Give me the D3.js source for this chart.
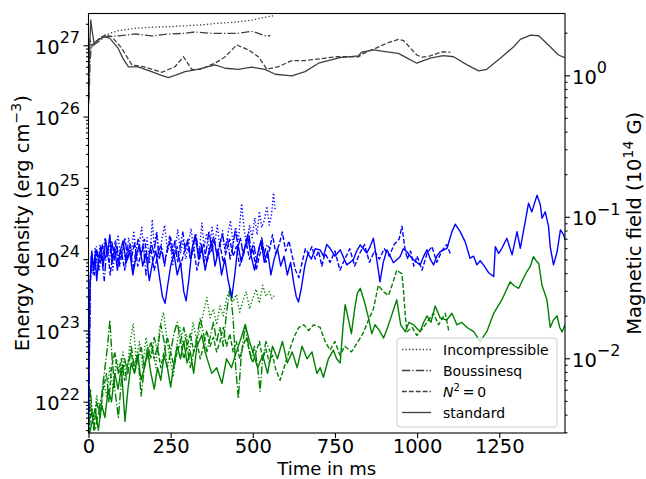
<!DOCTYPE html>
<html><head><meta charset="utf-8">
<script src="https://cdn.jsdelivr.net/npm/d3@7"></script>
<style>body{margin:0;background:#fff} text{font-family:"DejaVu Sans",sans-serif;fill:#000}</style>
</head><body><svg id="c" width="646" height="479"></svg>
<script>
// ---------- data (time in ms, energy density in erg cm^-3) ----------
const xTicks = [0, 250, 500, 750, 1000, 1250];
const leftExponents = [22, 23, 24, 25, 26, 27];
const rightExponents = [-2, -1, 0];
const legendLabels = ["Incompressible", "Boussinesq", "N2=0", "standard"];

// black (top) curves
const incK = [[0,5e26],[5,9e26],[15,1.0e27],[25,1.15e27],[40,1.32e27],[71,1.5e27],[90,1.6e27],[142,1.73e27],[192,1.79e27],[243,1.82e27],[294,1.88e27],[345,1.93e27],[395,2.04e27],[446,2.1e27],[497,2.26e27],[537,2.47e27],[563,2.6e27],[568,2.58e27]];
const bouK = [[1.5,1.7e26],[5,6e26],[8,9.2e26],[15,1.0e27],[30,1.12e27],[50,1.32e27],[90,1.35e27],[142,1.44e27],[192,1.35e27],[243,1.44e27],[294,1.47e27],[324,1.54e27],[375,1.47e27],[416,1.47e27],[456,1.47e27],[497,1.57e27],[517,1.47e27],[537,1.36e27],[553,1.36e27]];
const n2K = [[0,1.5e26],[4,1.2e27],[10,1.0e27],[20,1.1e27],[35,1.25e27],[50,1.39e27],[71,1.32e27],[101,9.1e26],[132,5.3e26],[167,5.0e26],[200,4.5e26],[223,4.18e26],[263,5.0e26],[289,6.9e26],[314,4.6e26],[340,4.6e26],[385,5.6e26],[416,6.9e26],[451,1.01e27],[487,8.6e26],[517,6.9e26],[543,4.6e26],[578,5.0e26],[619,6.1e26],[659,6.1e26],[720,6.6e26],[756,6.9e26],[822,6.9e26],[837,7.7e26],[867,8.8e26],[908,1.07e27],[943,1.21e27],[959,1.16e27],[999,7.3e26],[1015,6.8e26],[1040,7.1e26],[1076,8.1e26],[1101,8.0e26]];
const stdK = [[0,1.5e26],[3,8e26],[7,2.26e27],[11,1.6e27],[17,1.07e27],[30,1.2e27],[50,1.32e27],[65,1.25e27],[90,9.1e26],[105,6.5e26],[121,5.0e26],[151,4.97e26],[192,4.27e26],[220,3.8e26],[243,3.52e26],[265,3.8e26],[294,4.27e26],[333,4.6e26],[385,5.3e26],[416,4.76e26],[455,4.6e26],[497,4.92e26],[537,4.6e26],[568,3.92e26],[619,3.71e26],[659,4.27e26],[700,5.6e26],[730,6.08e26],[765,6.7e26],[821,7.08e26],[831,7.98e26],[867,8.6e26],[908,8.1e26],[943,7.7e26],[970,6.6e26],[999,5.6e26],[1040,6.6e26],[1080,7.15e26],[1111,6.9e26],[1152,5.3e26],[1187,4.37e26],[1212,4.6e26],[1253,6.6e26],[1294,9.55e26],[1314,1.21e27],[1345,1.39e27],[1370,1.36e27],[1405,9.55e26],[1430,7.3e26],[1450,6.7e26]];

// blue curves
const incB = [[0,3e21],[4,3e23],[8,1.1e24],[14,6e23],[20,1.4e24],[28,8e23],[35,1.6e24],[42,9e23],[50,2.0e24],[58,1.1e24],[66,1.7e24],[74,7e23],[82,1.3e24],[90,2.2e24],[98,1.0e24],[106,1.5e24],[114,8e23],[122,2.0e24],[130,1.2e24],[138,2.5e24],[146,1.0e24],[154,1.6e24],[162,2.8e24],[170,1.1e24],[178,2.0e24],[186,9e23],[194,3.6e24],[200,1.5e24],[208,2.4e24],[216,1.0e24],[224,2.0e24],[232,3.0e24],[240,1.3e24],[248,1.8e24],[256,8e23],[264,1.5e24],[272,2.6e24],[280,1.2e24],[288,1.9e24],[296,1.0e24],[304,1.6e24],[312,2.7e24],[320,1.3e24],[328,2.0e24],[336,1.1e24],[345,3.2e24],[352,1.5e24],[360,2.3e24],[368,1.2e24],[376,2.8e24],[384,1.6e24],[392,3.0e24],[400,1.4e24],[408,2.5e24],[416,1.2e24],[424,2.2e24],[432,3.5e24],[440,1.6e24],[448,2.8e24],[456,1.8e24],[466,6.0e24],[474,2.5e24],[482,1.5e24],[490,3.0e24],[498,2.0e24],[506,3.8e24],[513,2.2e24],[520,4.7e24],[527,2.8e24],[535,3.5e24],[543,5.5e24],[550,3.0e24],[557,4.2e24],[563,8.5e24],[568,5.0e24]];
const bouB = [[0,3e21],[5,5e23],[10,1.2e24],[16,8e23],[24,1.5e24],[32,7e23],[40,1.1e24],[48,5e23],[55,1.3e24],[63,9e23],[71,1.8e24],[79,1.0e24],[87,1.5e24],[95,8e23],[103,1.3e24],[111,2.0e24],[119,1.0e24],[127,1.6e24],[135,7e23],[143,1.2e24],[151,1.9e24],[159,1.1e24],[167,1.5e24],[175,6e23],[183,1.0e24],[191,1.7e24],[199,1.2e24],[207,2.3e24],[215,1.0e24],[223,1.4e24],[231,8e23],[239,1.3e24],[247,2.1e24],[255,1.2e24],[263,1.8e24],[271,9e23],[279,1.5e24],[287,2.4e24],[295,1.3e24],[303,1.9e24],[311,1.0e24],[319,1.6e24],[327,2.2e24],[335,1.2e24],[343,1.7e24],[351,9e23],[359,1.4e24],[367,2.5e24],[375,1.3e24],[383,1.9e24],[391,1.1e24],[399,1.6e24],[407,2.3e24],[415,1.4e24],[423,2.0e24],[431,1.0e24],[439,1.5e24],[447,2.6e24],[455,1.5e24],[463,2.0e24],[471,1.1e24],[479,1.8e24],[487,2.4e24],[495,1.3e24],[503,1.7e24],[511,9e23],[519,1.4e24],[527,2.0e24],[535,1.2e24],[543,1.6e24],[553,1.4e24]];
const n2B = [[0,3e21],[5,4e23],[10,1.1e24],[18,6e23],[26,1.3e24],[34,9e23],[42,1.6e24],[50,1.0e24],[58,1.4e24],[66,6e23],[74,1.2e24],[82,1.8e24],[90,9e23],[100,1.3e24],[110,7e23],[120,1.5e24],[130,1.0e24],[140,1.7e24],[150,8e23],[160,1.2e24],[170,1.9e24],[180,1.0e24],[190,1.4e24],[200,7e23],[210,1.1e24],[220,1.6e24],[230,9e23],[240,1.3e24],[250,2.0e24],[260,1.1e24],[270,1.5e24],[280,8e23],[290,1.2e24],[300,1.8e24],[310,1.0e24],[320,1.4e24],[330,7e23],[340,1.1e24],[350,1.6e24],[360,9e23],[370,1.3e24],[380,2.0e24],[390,1.2e24],[400,1.6e24],[410,9e23],[420,1.3e24],[430,1.9e24],[440,1.1e24],[450,1.5e24],[460,8e23],[470,1.2e24],[480,1.7e24],[490,1.0e24],[500,1.4e24],[510,7e23],[520,1.1e24],[530,1.6e24],[540,9e23],[550,1.3e24],[560,2.2e24],[570,1.2e24],[580,1.6e24],[590,2.4e24],[600,1.3e24],[610,1.8e24],[620,1.1e24],[630,7e23],[640,5.5e23],[650,9e23],[660,1.4e24],[670,1.2e24],[680,1.5e24],[690,1.0e24],[700,1.3e24],[710,8e23],[720,1.2e24],[735,9e23],[750,1.3e24],[765,7e23],[780,1.0e24],[795,1.4e24],[810,8e23],[825,1.2e24],[840,1.6e24],[855,9e23],[870,1.3e24],[885,1.0e24],[900,1.4e24],[915,1.1e24],[930,1.6e24],[945,1.9e24],[954,2.9e24],[962,1.5e24],[970,1.0e24],[980,1.3e24],[990,8e23],[1000,1.1e24],[1015,7e23],[1030,1.2e24],[1045,1.5e24],[1060,9e23],[1075,1.3e24],[1090,1.6e24],[1101,1.2e24]];
const stdB = [[0,3e21],[3,2e23],[6,6e23],[10,1.3e24],[15,7e23],[20,1.1e24],[25,5e23],[30,9e23],[38,1.5e24],[45,8e23],[52,1.9e24],[58,1.2e24],[65,2.2e24],[72,9e23],[80,1.4e24],[88,7e23],[95,1.2e24],[105,1.8e24],[115,9e23],[125,1.3e24],[135,6e23],[145,1.1e24],[155,1.6e24],[165,8e23],[175,1.2e24],[185,5e23],[195,9e23],[205,1.3e24],[215,6e23],[225,3e23],[233,2.4e23],[240,4e23],[250,8e23],[260,1.2e24],[270,6e23],[280,9e23],[290,3.5e23],[297,2.6e23],[305,5e23],[315,1.4e24],[325,2.2e24],[335,1.0e24],[345,1.5e24],[355,7e23],[365,1.2e24],[375,1.8e24],[385,8e23],[395,1.3e24],[405,6e23],[415,1.0e24],[425,5e23],[436,2.9e23],[445,6e23],[455,1.6e24],[465,9e23],[475,1.4e24],[485,2.0e24],[495,1.1e24],[505,7e23],[515,1.2e24],[525,1.8e24],[535,9e23],[545,1.3e24],[555,6e23],[565,1.0e24],[575,1.4e24],[585,8e23],[595,1.1e24],[605,6e23],[615,9e23],[625,4.5e23],[632,3e23],[639,2.5e23],[648,4e23],[658,8e23],[668,1.2e24],[678,1.0e24],[690,1.4e24],[705,1.35e24],[715,1.1e24],[725,1.6e24],[735,1.42e24],[750,1.1e24],[766,1.35e24],[786,8.3e23],[806,9.8e23],[816,1.3e24],[827,1.58e24],[847,1.22e24],[857,1.5e24],[867,1.96e24],[877,1.0e24],[887,4.8e23],[897,9e23],[908,1.35e24],[918,1.1e24],[928,8.9e23],[948,1.08e24],[958,1.4e24],[969,1.27e24],[979,1.1e24],[989,9.8e23],[1009,8.3e23],[1020,1.1e24],[1030,1.35e24],[1040,1.0e24],[1050,8.3e23],[1060,1.1e24],[1070,1.27e24],[1091,1.42e24],[1106,2.43e24],[1116,3.09e24],[1131,2.43e24],[1146,1.76e24],[1161,1.03e24],[1172,1.1e24],[1182,8.3e23],[1192,9.5e23],[1202,8.3e23],[1217,6.5e23],[1233,5.7e23],[1238,1.5e24],[1248,1.2e24],[1258,1.42e24],[1273,1.96e24],[1289,1.15e24],[1304,2.43e24],[1314,1.42e24],[1329,3.36e24],[1339,6.1e24],[1349,4.6e24],[1365,7.9e24],[1375,5.75e24],[1380,3.75e24],[1390,4.6e24],[1400,2.86e24],[1405,1.5e24],[1415,8.3e23],[1426,1.27e24],[1436,2.57e24],[1446,2.19e24],[1450,1.86e24]];

// green curves
const incG = [[0,3e21],[8,1e22],[15,5e21],[25,1.2e22],[35,7e21],[45,2e22],[55,1.2e22],[65,3e22],[75,1.5e22],[85,4e22],[95,2.5e22],[105,5e22],[115,2e22],[125,6e22],[136,1.25e23],[145,4e22],[155,7e22],[165,3e22],[175,8e22],[185,4e22],[195,6e22],[205,3e22],[215,1.0e23],[228,1.8e23],[238,8e22],[248,4e22],[258,2.2e22],[268,6e22],[278,1.1e23],[288,6e22],[298,9e22],[308,5e22],[318,1.3e23],[330,7e22],[340,1.1e23],[350,1.8e23],[360,2.9e23],[370,1.5e23],[380,2.0e23],[390,1.2e23],[400,2.2e23],[410,1.6e23],[420,2.8e23],[431,3.9e23],[440,2.5e23],[450,3.2e23],[460,1.8e23],[470,2.6e23],[480,3.5e23],[490,2.0e23],[500,2.8e23],[510,3.8e23],[520,2.4e23],[530,4.3e23],[540,3.0e23],[550,3.5e23],[558,2.8e23],[568,3.2e23]];
const bouG = [[0,3e21],[6,1.5e22],[12,6e21],[20,4e21],[30,7e21],[40,1.2e22],[50,3e22],[58,6e22],[65,1.4e23],[72,4e22],[80,1.5e22],[91,6e21],[100,2e22],[110,4e22],[120,2.5e22],[130,6e22],[140,3e22],[150,5e22],[160,1.2e22],[170,3e22],[180,6e22],[190,4e22],[200,8e22],[210,5e22],[220,1.2e23],[230,7e22],[240,3e22],[250,5e22],[260,9e22],[270,1.3e23],[280,7e22],[290,1.1e23],[300,6e22],[310,3e22],[320,5e22],[330,8e22],[340,1.5e23],[350,9e22],[360,5e22],[370,8e22],[380,1.3e23],[390,7e22],[400,1.1e23],[410,6e22],[420,1.8e23],[431,3.9e23],[440,1.5e23],[448,3e22],[456,1.1e22],[464,4e22],[472,8e22],[477,1.2e23],[485,7e22],[495,4e22],[505,6e22],[515,3e22],[522,1.4e22],[530,4e22],[540,7e22],[553,5e22]];
const n2G = [[0,3e21],[8,8e21],[16,4e21],[25,1.0e22],[35,6e21],[45,1.5e22],[55,2.5e22],[62,1.0e22],[70,3e22],[80,5e22],[90,2.5e22],[100,4e22],[110,2e22],[120,3.5e22],[130,5e22],[140,2.5e22],[150,4e22],[160,6e22],[170,3e22],[180,4.5e22],[190,7e22],[200,4e22],[210,6e22],[220,3e22],[230,5e22],[240,8e22],[250,5e22],[260,3e22],[270,5e22],[280,7e22],[290,4e22],[300,6e22],[310,9e22],[320,5e22],[330,7e22],[340,4e22],[350,6e22],[360,1.0e23],[370,6e22],[380,8e22],[390,5e22],[400,7e22],[410,1.1e23],[420,6e22],[430,9e22],[440,5e22],[450,7e22],[460,4e22],[470,6e22],[480,8e22],[490,5e22],[500,3.5e22],[510,5e22],[520,7e22],[530,4e22],[540,5.5e22],[550,3.5e22],[560,4.5e22],[570,2.8e22],[583,2.0e22],[595,3e22],[610,5e22],[625,8e22],[640,1.1e23],[655,1.2e23],[670,1.0e23],[685,1.2e23],[705,1.1e23],[720,7e22],[735,5.3e22],[750,7e22],[765,4.5e22],[780,6e22],[800,5e22],[817,6.6e22],[835,9e22],[852,1.4e23],[867,2.0e23],[882,4.3e23],[897,3.5e23],[913,3.1e23],[925,4.5e23],[938,7.0e23],[954,6.2e23],[959,3.4e23],[964,1.6e23],[969,9.6e22],[985,1.1e23],[999,8.5e22],[1019,1.1e23],[1035,1.4e23],[1050,1.74e23],[1065,1.2e23],[1086,1.74e23],[1096,1.0e23]];
const stdG = [[0,3e21],[10,5e21],[20,8e21],[30,4e21],[40,9e21],[50,6e21],[60,1.5e22],[70,1.0e22],[80,2.5e22],[90,1.5e22],[100,3e22],[111,5.3e21],[120,1.5e22],[130,3.5e22],[140,2.5e22],[150,4.5e22],[160,2e22],[170,3e22],[180,5e22],[190,2.5e22],[200,1.5e22],[210,3e22],[220,2e22],[230,4.5e22],[240,3e22],[250,1.6e22],[260,3.5e22],[270,6e22],[280,4e22],[290,7e22],[300,3.5e22],[310,5e22],[320,2.5e22],[330,6e22],[345,8.6e22],[355,5e22],[365,3.5e22],[375,2.5e22],[390,3e22],[406,1.8e22],[420,4e22],[435,3e22],[450,5e22],[465,8e22],[477,1.2e23],[490,7e22],[500,5e22],[515,3e22],[530,4.5e22],[545,2.5e22],[560,6e22],[575,4e22],[590,7e22],[605,3.5e22],[620,5e22],[635,3e22],[650,6e22],[665,4e22],[680,5e22],[695,2.5e22],[705,3.0e22],[715,2.2e22],[730,4e22],[745,5.3e22],[755,4e22],[766,3.5e22],[775,1.2e23],[781,2.3e23],[790,1.5e23],[800,9e22],[810,2e23],[818,3.3e23],[827,3.9e23],[840,2.5e23],[852,1.5e23],[862,9e22],[872,1.2e23],[885,1.0e23],[898,7.8e22],[910,1.1e23],[920,1.5e23],[938,2.7e23],[950,1.2e23],[964,9.6e22],[975,1.3e23],[989,1.2e23],[1009,9.6e22],[1020,1.3e23],[1030,1.6e23],[1042,1.3e23],[1055,2.2e23],[1070,1.5e23],[1090,1.4e23],[1106,1.74e23],[1121,1.2e23],[1135,1.3e23],[1152,1.1e23],[1172,9.6e22],[1192,7e22],[1212,9.6e22],[1233,1.74e23],[1258,2.7e23],[1283,4.8e23],[1296,4.2e23],[1309,3.9e23],[1322,5.2e23],[1334,6.7e23],[1345,8e23],[1354,1.08e24],[1362,9.5e23],[1370,8.7e23],[1380,4.3e23],[1395,2.7e23],[1405,1.1e23],[1415,1.4e23],[1426,1.6e23],[1434,1.1e23],[1441,9.5e22],[1450,1.2e23]];

// ---------- drawing ----------
const svg = d3.select("#c");
const L = 88.5, R = 565, T = 13.5, B = 433;
const x = d3.scaleLinear().domain([0, 1450]).range([L, R]);
const yL = d3.scaleLog().domain([3.64e21, 2.79e27]).range([B, T]);
const yR = d3.scaleLog().domain([2.965e-3, 2.734]).range([B, T]);

const K = "#404040", BL = "#0000ff", GR = "#008000";
const LW = 1.3;
const dash = {
  dot: "1.3,2.15",
  dashdot: "8.3,2.1,1.3,2.1",
  dash: "4.8,2.1",
  solid: null
};
const models = [
  {style: "dot", series: [incK, incB, incG]},
  {style: "dashdot", series: [bouK, bouB, bouG]},
  {style: "dash", series: [n2K, n2B, n2G]},
  {style: "solid", series: [stdK, stdB, stdG]}
];
const colors = [K, BL, GR];

svg.append("defs").append("clipPath").attr("id", "clip")
  .append("rect").attr("x", L).attr("y", T).attr("width", R - L).attr("height", B - T);

const line = d3.line().x(d => x(d[0])).y(d => yL(d[1]));
const gLines = svg.append("g").attr("clip-path", "url(#clip)");
models.forEach(m => {
  m.series.forEach((s, i) => {
    gLines.append("path").attr("d", line(s)).attr("fill", "none")
      .attr("stroke", colors[i]).attr("stroke-width", i === 0 ? LW : 1.4)
      .attr("stroke-dasharray", dash[m.style]).attr("stroke-linejoin", "round");
  });
});

// frame
svg.append("rect").attr("x", L).attr("y", T).attr("width", R - L).attr("height", B - T)
  .attr("fill", "none").attr("stroke", "#000").attr("stroke-width", 1.1);

const FS = 19.5, SUP = 16;

function supLabel(sel, exps) {
  sel.each(function(d, i) {
    const t = d3.select(this);
    t.text(null);
    t.append("tspan").text("10");
    const e = exps[i];
    t.append("tspan").attr("dy", -10.5).attr("font-size", SUP)
      .text(e < 0 ? "\u2212" + Math.abs(e) : String(e));
  });
}

// left axis
const leftMaj = leftExponents.map(e => Math.pow(10, e));
const leftMin = [];
for (let e = 21; e <= 27; e++) for (let k = 2; k <= 9; k++) {
  const v = k * Math.pow(10, e);
  if (v >= 3.64e21 && v <= 2.79e27) leftMin.push(v);
}
const gl = svg.append("g").attr("transform", `translate(${L},0)`);
gl.call(d3.axisLeft(yL).tickValues(leftMaj).tickSize(5).tickSizeOuter(0).tickPadding(3.5));
gl.select(".domain").remove();
gl.selectAll(".tick text").attr("dy", null).attr("y", 7.8).attr("font-size", FS)
  .attr("font-family", "DejaVu Sans").call(supLabel, leftExponents);
const glm = svg.append("g").attr("transform", `translate(${L},0)`);
glm.call(d3.axisLeft(yL).tickValues(leftMin).tickSize(2.5).tickFormat(""));
glm.select(".domain").remove();

// right axis
const rightMaj = rightExponents.map(e => Math.pow(10, e));
const rightMin = [];
for (let e = -3; e <= 0; e++) for (let k = 2; k <= 9; k++) {
  const v = k * Math.pow(10, e);
  if (v >= 2.965e-3 && v <= 2.734) rightMin.push(v);
}
const gr = svg.append("g").attr("transform", `translate(${R},0)`);
gr.call(d3.axisRight(yR).tickValues(rightMaj).tickSize(5).tickSizeOuter(0).tickPadding(2));
gr.select(".domain").remove();
gr.selectAll(".tick text").attr("dy", null).attr("y", 7.8).attr("font-size", FS)
  .attr("font-family", "DejaVu Sans").call(supLabel, rightExponents);
const grm = svg.append("g").attr("transform", `translate(${R},0)`);
grm.call(d3.axisRight(yR).tickValues(rightMin).tickSize(2.5).tickFormat(""));
grm.select(".domain").remove();

// bottom axis
const gb = svg.append("g").attr("transform", `translate(0,${B})`);
gb.call(d3.axisBottom(x).tickValues(xTicks).tickSize(5).tickSizeOuter(0).tickFormat(d3.format("d")));
gb.select(".domain").remove();
gb.selectAll(".tick text").attr("dy", null).attr("y", 20).attr("font-size", FS)
  .attr("font-family", "DejaVu Sans");

svg.selectAll(".tick line").attr("stroke", "#000").attr("stroke-width", 1.1);

// axis titles
svg.append("text").attr("x", (L + R) / 2).attr("y", 474.5).attr("text-anchor", "middle")
  .attr("font-size", 18).text("Time in ms");

const yl = svg.append("text").attr("transform", `translate(29,${(T + B) / 2}) rotate(-90)`)
  .attr("text-anchor", "middle").attr("font-size", FS);
yl.append("tspan").text("Energy density (erg cm");
yl.append("tspan").attr("dy", -8).attr("font-size", 14).text("\u22123");
yl.append("tspan").attr("dy", 8).text(")");

const yr = svg.append("text").attr("transform", `translate(641,${(T + B) / 2}) rotate(-90)`)
  .attr("text-anchor", "middle").attr("font-size", FS);
yr.append("tspan").text("Magnetic field (10");
yr.append("tspan").attr("dy", -8).attr("font-size", 14).text("14");
yr.append("tspan").attr("dy", 8).text(" G)");

// legend
const lg = svg.append("g");
lg.append("rect").attr("x", 397).attr("y", 338).attr("width", 160).attr("height", 89)
  .attr("rx", 3).attr("fill", "#fff").attr("fill-opacity", 0.8)
  .attr("stroke", "#cccccc").attr("stroke-width", 1);
const styles = ["dot", "dashdot", "dash", "solid"];
legendLabels.forEach((lab, i) => {
  const yy = 349.5 + i * 21;
  lg.append("line").attr("x1", 402).attr("x2", 431).attr("y1", yy).attr("y2", yy)
    .attr("stroke", K).attr("stroke-width", LW).attr("stroke-dasharray", dash[styles[i]]);
  const t = lg.append("text").attr("x", 443).attr("y", yy + 5).attr("font-size", 14);
  if (lab === "N2=0") {
    t.append("tspan").attr("font-style", "italic").text("N");
    t.append("tspan").attr("dy", -6).attr("font-size", 10).text("2");
    t.append("tspan").attr("dy", 6).text("\u2009=\u20090");
  } else {
    t.text(lab);
  }
});
</script>
</body></html>
